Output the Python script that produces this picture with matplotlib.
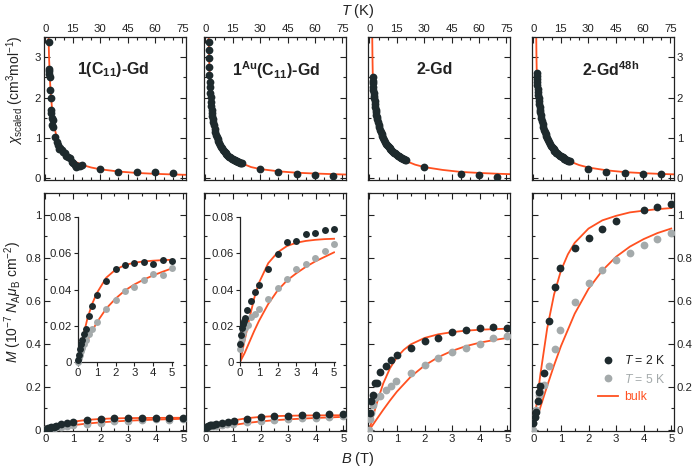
import matplotlib
matplotlib.use("Agg")
import matplotlib.pyplot as plt
from matplotlib.ticker import MultipleLocator
from matplotlib.lines import Line2D

plt.rcParams['font.family'] = ['Liberation Sans', 'DejaVu Sans']
plt.rcParams['mathtext.fontset'] = 'custom'
plt.rcParams['mathtext.rm'] = 'Liberation Sans'
plt.rcParams['mathtext.it'] = 'Liberation Sans:italic'
plt.rcParams['mathtext.bf'] = 'Liberation Sans:bold'

DARK = '#1e2a2d'
GRAY = '#a4aaab'
ORANGE = '#ff5020'
INK = '#222222'

# ---------------- susceptibility data (top row) ----------------
titles = [r"1(C$_\mathbf{11}$)-Gd", r"1$^\mathbf{Au}$(C$_\mathbf{11}$)-Gd",
          r"2-Gd", r"2-Gd$^\mathbf{48h}$"]

T1 = [1.8, 2.0, 2.1, 2.2, 2.4, 2.6, 2.9, 3.1, 3.3, 3.5, 3.7, 3.9, 4.3, 5.2, 6.1, 7.0, 7.5, 7.9,
      8.8, 9.7, 10.6, 11.5, 12.5, 13.4, 14.3, 15.2, 16.1, 17.0, 18.0, 19.0, 20.0, 30, 40, 50, 60, 70]
chi1 = [3.38, 2.70, 2.65, 2.58, 2.50, 2.20, 1.98, 1.69, 1.61, 1.49, 1.32, 1.44, 1.28, 1.03, 0.91,
        0.83, 0.72, 0.75, 0.70, 0.66, 0.62, 0.56, 0.54, 0.50, 0.41, 0.375, 0.33, 0.29, 0.30, 0.31,
        0.32, 0.22, 0.17, 0.17, 0.17, 0.14]

Tdense = [1.8, 1.9, 2.0, 2.1, 2.2, 2.35, 2.5, 2.65, 2.8, 3.0, 3.2, 3.4, 3.6, 3.8, 4.0, 4.3, 4.6,
          5.0, 5.4, 5.8, 6.2, 6.6, 7.0, 7.5, 8.0, 8.5, 9.0, 9.5, 10.0, 10.5, 11.0, 11.5, 12.0,
          12.5, 13.0, 13.5, 14.0, 14.5, 15.0, 15.5, 16.0, 16.5, 17.0, 17.5, 18.0, 18.5, 19.0,
          19.5, 20.0]

T2 = Tdense + [30, 40, 50, 60, 70]
chi2 = [3.38, 3.17, 2.97, 2.76, 2.55, 2.38, 2.25, 2.12, 2.02, 1.90, 1.80, 1.70, 1.62, 1.55, 1.48,
        1.40, 1.32, 1.23, 1.15, 1.08, 1.02, 0.97, 0.92, 0.87, 0.82, 0.78, 0.74, 0.71, 0.68, 0.65,
        0.62, 0.60, 0.58, 0.56, 0.54, 0.52, 0.50, 0.49, 0.47, 0.46, 0.45, 0.44, 0.43, 0.42, 0.41,
        0.40, 0.39, 0.385, 0.38, 0.22, 0.16, 0.11, 0.075, 0.06]

T3 = Tdense + [30, 50, 60, 70]
chi3 = [2.50, 2.42, 2.35, 2.27, 2.20, 2.12, 2.05, 1.98, 1.92, 1.84, 1.77, 1.70, 1.64, 1.58, 1.53,
        1.46, 1.40, 1.33, 1.26, 1.20, 1.14, 1.09, 1.04, 0.99, 0.94, 0.90, 0.86, 0.83, 0.80, 0.77,
        0.74, 0.72, 0.70, 0.68, 0.66, 0.64, 0.62, 0.60, 0.58, 0.565, 0.55, 0.535, 0.52, 0.51,
        0.50, 0.49, 0.475, 0.46, 0.45, 0.29, 0.11, 0.08, 0.045]

T4 = Tdense + [30, 40, 50, 60, 70]
chi4 = [2.61, 2.53, 2.45, 2.38, 2.31, 2.22, 2.14, 2.07, 2.00, 1.92, 1.84, 1.77, 1.70, 1.64, 1.58,
        1.50, 1.43, 1.35, 1.28, 1.21, 1.15, 1.10, 1.05, 0.99, 0.94, 0.89, 0.85, 0.81, 0.78, 0.75,
        0.72, 0.69, 0.67, 0.64, 0.62, 0.60, 0.58, 0.56, 0.55, 0.53, 0.52, 0.50, 0.49, 0.48, 0.46,
        0.45, 0.44, 0.43, 0.42, 0.23, 0.15, 0.13, 0.11, 0.11]

# bulk fit curves
Tfit12 = [1.6, 1.7, 2.0, 2.5, 3.0, 3.5, 4.0, 5.0, 6.0, 7.0, 8.0, 10, 12, 15, 20, 25, 30, 40, 50,
          60, 70, 77]
chifit1 = [3.6, 3.45, 2.95, 2.4, 2.05, 1.78, 1.55, 1.25, 1.05, 0.92, 0.80, 0.65, 0.55, 0.44, 0.335,
           0.27, 0.225, 0.17, 0.135, 0.113, 0.097, 0.088]
chifit2 = [3.7, 3.5, 3.0, 2.3, 1.95, 1.68, 1.50, 1.24, 1.05, 0.93, 0.83, 0.68, 0.58, 0.47, 0.37,
           0.28, 0.23, 0.175, 0.14, 0.12, 0.105, 0.095]
Tfit34 = [1.5, 1.65, 1.8, 2.0, 2.3, 2.6, 3.0, 3.5, 4, 5, 6, 7, 8, 10, 12, 15, 20, 25, 30, 40, 50,
          60, 70, 77]
chifit3 = [3.6, 3.0, 2.6, 2.35, 2.12, 1.96, 1.80, 1.63, 1.50, 1.30, 1.15, 1.03, 0.94, 0.79, 0.68,
           0.56, 0.43, 0.34, 0.28, 0.21, 0.16, 0.135, 0.115, 0.105]
chifit4 = [3.6, 3.0, 2.65, 2.42, 2.20, 2.03, 1.87, 1.69, 1.55, 1.33, 1.16, 1.04, 0.94, 0.78, 0.67,
           0.55, 0.42, 0.33, 0.27, 0.20, 0.155, 0.13, 0.11, 0.10]

# ---------------- magnetisation data (bottom row) ----------------
B1d = [0.02, 0.06, 0.1, 0.15, 0.2, 0.32, 0.4, 0.56, 0.77, 0.99, 1.5, 2.0, 2.5, 3.0, 3.5, 4.0, 4.5, 5.0]
M1d = [0.001, 0.004, 0.007, 0.010, 0.012, 0.0155, 0.018, 0.0252, 0.0307, 0.0367, 0.0446, 0.0511,
       0.0533, 0.0546, 0.0554, 0.0543, 0.0563, 0.0557]
B1g = [0.0, 0.05, 0.1, 0.15, 0.2, 0.3, 0.4, 0.56, 0.77, 0.99, 1.5, 2.0, 2.5, 3.0, 3.5, 4.0, 4.5, 5.0]
M1g = [0.0, 0.002, 0.004, 0.006, 0.008, 0.010, 0.012, 0.0154, 0.018, 0.0219, 0.0294, 0.0341,
       0.0394, 0.0413, 0.0452, 0.0487, 0.0478, 0.052]
Bfit_in = [0, 0.25, 0.5, 0.75, 1.0, 1.5, 2.0, 2.5, 3.0, 3.5, 4.0, 4.5, 5.0]
M1fit2K = [0, 0.013, 0.024, 0.032, 0.038, 0.0465, 0.051, 0.0535, 0.0548, 0.0555, 0.0559, 0.0562, 0.0564]
M1fit5K = [0, 0.006, 0.0118, 0.017, 0.0218, 0.0295, 0.035, 0.0395, 0.0428, 0.0455, 0.0478, 0.0498, 0.0517]

B2d = [0.02, 0.04, 0.09, 0.16, 0.22, 0.27, 0.39, 0.61, 0.81, 1.02, 1.5, 2.0, 2.5, 3.0, 3.5, 4.0, 4.5, 5.0]
M2d = [0.010, 0.015, 0.0185, 0.0211, 0.0226, 0.0245, 0.0286, 0.0335, 0.0386, 0.0424, 0.0514,
       0.0595, 0.066, 0.0665, 0.0705, 0.0712, 0.0728, 0.0733]
B2g = [0.0, 0.04, 0.09, 0.16, 0.27, 0.4, 0.6, 0.8, 1.0, 1.5, 2.0, 2.5, 3.0, 3.5, 4.0, 4.5, 5.0]
M2g = [0.007, 0.011, 0.0135, 0.016, 0.0185, 0.0204, 0.0249, 0.0264, 0.0292, 0.0348, 0.0408,
       0.046, 0.0514, 0.054, 0.0575, 0.061, 0.065]
M2fit2K = [0, 0.012, 0.024, 0.035, 0.0435, 0.0545, 0.0605, 0.064, 0.0658, 0.0668, 0.0674, 0.0678, 0.068]
M2fit5K = [0, 0.005, 0.011, 0.017, 0.0225, 0.032, 0.0395, 0.045, 0.049, 0.0525, 0.0555, 0.058, 0.0605]

B3d = [0.01, 0.07, 0.13, 0.22, 0.28, 0.37, 0.6, 0.8, 1.0, 1.5, 2.0, 2.5, 3.0, 3.5, 4.0, 4.5, 5.0]
M3d = [0.08, 0.135, 0.16, 0.22, 0.217, 0.271, 0.295, 0.323, 0.349, 0.38, 0.411, 0.426, 0.454,
       0.465, 0.471, 0.477, 0.473]
B3g = [0.0, 0.02, 0.06, 0.12, 0.18, 0.24, 0.39, 0.6, 0.78, 0.98, 1.5, 2.0, 2.5, 3.0, 3.5, 4.0, 4.5, 5.0]
M3g = [0.0, 0.05, 0.08, 0.115, 0.147, 0.152, 0.158, 0.186, 0.206, 0.225, 0.264, 0.301, 0.332,
       0.361, 0.381, 0.40, 0.426, 0.434]

B4d = [0.0, 0.05, 0.1, 0.15, 0.2, 0.25, 0.38, 0.58, 0.78, 0.98, 1.5, 2.0, 2.5, 3.0, 4.0, 4.5, 5.0]
M4d = [0.03, 0.06, 0.085, 0.132, 0.175, 0.205, 0.262, 0.504, 0.664, 0.752, 0.845, 0.891, 0.935,
       0.968, 1.02, 1.036, 1.051]
B4g = [0.0, 0.0, 0.05, 0.1, 0.2, 0.25, 0.38, 0.58, 0.78, 0.98, 1.5, 2.0, 2.5, 3.0, 3.5, 4.0, 4.5, 5.0]
M4g = [0.0, 0.031, 0.062, 0.093, 0.163, 0.178, 0.209, 0.295, 0.375, 0.462, 0.592, 0.682, 0.741,
       0.788, 0.822, 0.857, 0.888, 0.915]

Bfit2K = [0, 0.1, 0.25, 0.5, 0.75, 1.0, 1.25, 1.5, 2.0, 2.5, 3.0, 3.5, 4.0, 4.5, 5.0]
M3fit2K = [0, 0.047, 0.116, 0.215, 0.287, 0.338, 0.372, 0.397, 0.427, 0.444, 0.454, 0.461, 0.465, 0.468, 0.470]
M4fit2K = [0, 0.104, 0.254, 0.471, 0.629, 0.740, 0.815, 0.869, 0.935, 0.973, 0.994, 1.010, 1.018, 1.025, 1.030]
Bfit5K = [0, 0.25, 0.5, 0.75, 1.0, 1.5, 2.0, 2.5, 3.0, 3.5, 4.0, 4.5, 5.0]
M3fit5K = [0, 0.047, 0.093, 0.137, 0.178, 0.247, 0.299, 0.338, 0.367, 0.389, 0.405, 0.417, 0.427]
M4fit5K = [0, 0.104, 0.204, 0.300, 0.389, 0.540, 0.655, 0.740, 0.804, 0.851, 0.886, 0.914, 0.935]

top_data = [(T1, chi1, Tfit12, chifit1), (T2, chi2, Tfit12, chifit2),
            (T3, chi3, Tfit34, chifit3), (T4, chi4, Tfit34, chifit4)]
bot_data = [(B1d, M1d, B1g, M1g, Bfit_in, M1fit2K, Bfit_in, M1fit5K),
            (B2d, M2d, B2g, M2g, Bfit_in, M2fit2K, Bfit_in, M2fit5K),
            (B3d, M3d, B3g, M3g, Bfit2K, M3fit2K, Bfit5K, M3fit5K),
            (B4d, M4d, B4g, M4g, Bfit2K, M4fit2K, Bfit5K, M4fit5K)]

W, H = 697, 470
fig = plt.figure(figsize=(W / 100, H / 100), dpi=100)

def fr(x0, y0, x1, y1):
    return [x0 / W, 1 - y1 / H, (x1 - x0) / W, (y1 - y0) / H]

lefts = [44, 204, 368, 532]
pw = 142
title_cx = [0.49, 0.51, 0.47, 0.55]
ms = 5.6

def style(ax):
    for s in ax.spines.values():
        s.set_color(INK)
        s.set_linewidth(0.9)
    ax.tick_params(which='both', direction='in', top=True, right=True,
                   colors=INK, labelcolor=INK, labelsize=8.2, width=0.8)
    ax.tick_params(which='major', length=4)
    ax.tick_params(which='minor', length=2.2)

for i in range(4):
    x0 = lefts[i]
    # ---- top
    T, chi, Tf, cf = top_data[i]
    ax = fig.add_axes(fr(x0, 37, x0 + pw, 180))
    style(ax)
    ax.plot(Tf, cf, color=ORANGE, lw=1.3, zorder=2)
    ax.plot(T, chi, 'o', color=DARK, ms=ms, mec='none', zorder=3)
    ax.set_xlim(-0.8, 77)
    ax.set_ylim(-0.04, 3.5)
    ax.xaxis.set_major_locator(MultipleLocator(15))
    ax.xaxis.set_minor_locator(MultipleLocator(5))
    ax.yaxis.set_major_locator(MultipleLocator(1))
    ax.yaxis.set_minor_locator(MultipleLocator(0.5))
    ax.tick_params(labeltop=True, labelbottom=False, labelleft=(i == 0), labelright=(i == 3), pad=2)
    ax.text(title_cx[i], 0.77, titles[i], transform=ax.transAxes, ha='center', va='center',
            fontsize=11.5, fontweight='bold', color=INK)

    # ---- bottom
    Bd, Md, Bg, Mg, Bf2, Mf2, Bf5, Mf5 = bot_data[i]
    ax = fig.add_axes(fr(x0, 193, x0 + pw, 431))
    style(ax)
    ax.plot(Bf2, Mf2, color=ORANGE, lw=1.3, zorder=2)
    ax.plot(Bf5, Mf5, color=ORANGE, lw=1.3, zorder=2)
    ax.plot(Bg, Mg, 'o', color=GRAY, ms=ms, mec='none', zorder=3)
    ax.plot(Bd, Md, 'o', color=DARK, ms=ms, mec='none', zorder=4)
    ax.set_xlim(-0.05, 5.1)
    ax.set_ylim(-0.005, 1.1)
    ax.xaxis.set_major_locator(MultipleLocator(1))
    ax.xaxis.set_minor_locator(MultipleLocator(0.5))
    ax.set_yticks([0, 0.2, 0.4, 0.6, 0.8, 1.0])
    ax.set_yticklabels(['0', '0.2', '0.4', '0.6', '0.8', '1'])
    ax.yaxis.set_minor_locator(MultipleLocator(0.1))
    ax.set_xticks([0, 1, 2, 3, 4, 5])
    ax.set_xticklabels(['0', '1', '2', '3', '4', '5'])
    ax.tick_params(labelleft=(i == 0), labelright=(i == 3), pad=2)

    if i == 3:
        handles = [Line2D([], [], ls='none', marker='o', color=DARK, ms=ms, mec='none'),
                   Line2D([], [], ls='none', marker='o', color=GRAY, ms=ms, mec='none'),
                   Line2D([], [], color=ORANGE, lw=1.3)]
        leg = ax.legend(handles, [r'$T$ = 2 K', r'$T$ = 5 K', 'bulk'], loc='center left',
                        bbox_to_anchor=(0.39, 0.22), frameon=False, fontsize=8.8,
                        handlelength=1.6, handletextpad=0.5, labelspacing=0.45)
        for t, c in zip(leg.get_texts(), [INK, GRAY, ORANGE]):
            t.set_color(c)

    # ---- insets
    if i < 2:
        ix0 = 78 + (i * 162)
        axi = fig.add_axes(fr(ix0, 217, ix0 + 95, 362))
        axi.patch.set_alpha(0)
        for s in ['top', 'right']:
            axi.spines[s].set_visible(False)
        for s in ['left', 'bottom']:
            axi.spines[s].set_color(INK)
            axi.spines[s].set_linewidth(0.9)
        axi.plot(Bf2, Mf2, color=ORANGE, lw=1.3, zorder=2)
        axi.plot(Bf5, Mf5, color=ORANGE, lw=1.3, zorder=2)
        axi.plot(Bg, Mg, 'o', color=GRAY, ms=5.0, mec='none', zorder=3, clip_on=False)
        axi.plot(Bd, Md, 'o', color=DARK, ms=5.0, mec='none', zorder=4, clip_on=False)
        axi.set_xlim(0, 5.05)
        axi.set_ylim(0, 0.08)
        axi.set_xticks([0, 1, 2, 3, 4, 5])
        axi.set_xticklabels(['0', '1', '2', '3', '4', '5'])
        axi.set_yticks([0, 0.02, 0.04, 0.06, 0.08])
        axi.set_yticklabels(['0', '0.02', '0.04', '0.06', '0.08'])
        axi.tick_params(direction='out', length=3, width=0.8, colors=INK, labelsize=8.2, pad=1.5)

fig.text(358 / W, 1 - 11 / H, r'$T$ (K)', ha='center', va='center', fontsize=10.5, color=INK)
fig.text(358 / W, 1 - 459 / H, r'$B$ (T)', ha='center', va='center', fontsize=10.5, color=INK)
fig.text(15 / W, 1 - 90 / H, r'$\chi_{\rm scaled}$ (cm$^3$mol$^{-1}$)', rotation=90,
         ha='center', va='center', fontsize=10, color=INK)
fig.text(13 / W, 1 - 302 / H, r'$M$ (10$^{-7}$ $N_{\rm A}\mu_{\rm B}$ cm$^{-2}$)', rotation=90,
         ha='center', va='center', fontsize=10, color=INK)

fig.savefig('out.png', dpi=100)
